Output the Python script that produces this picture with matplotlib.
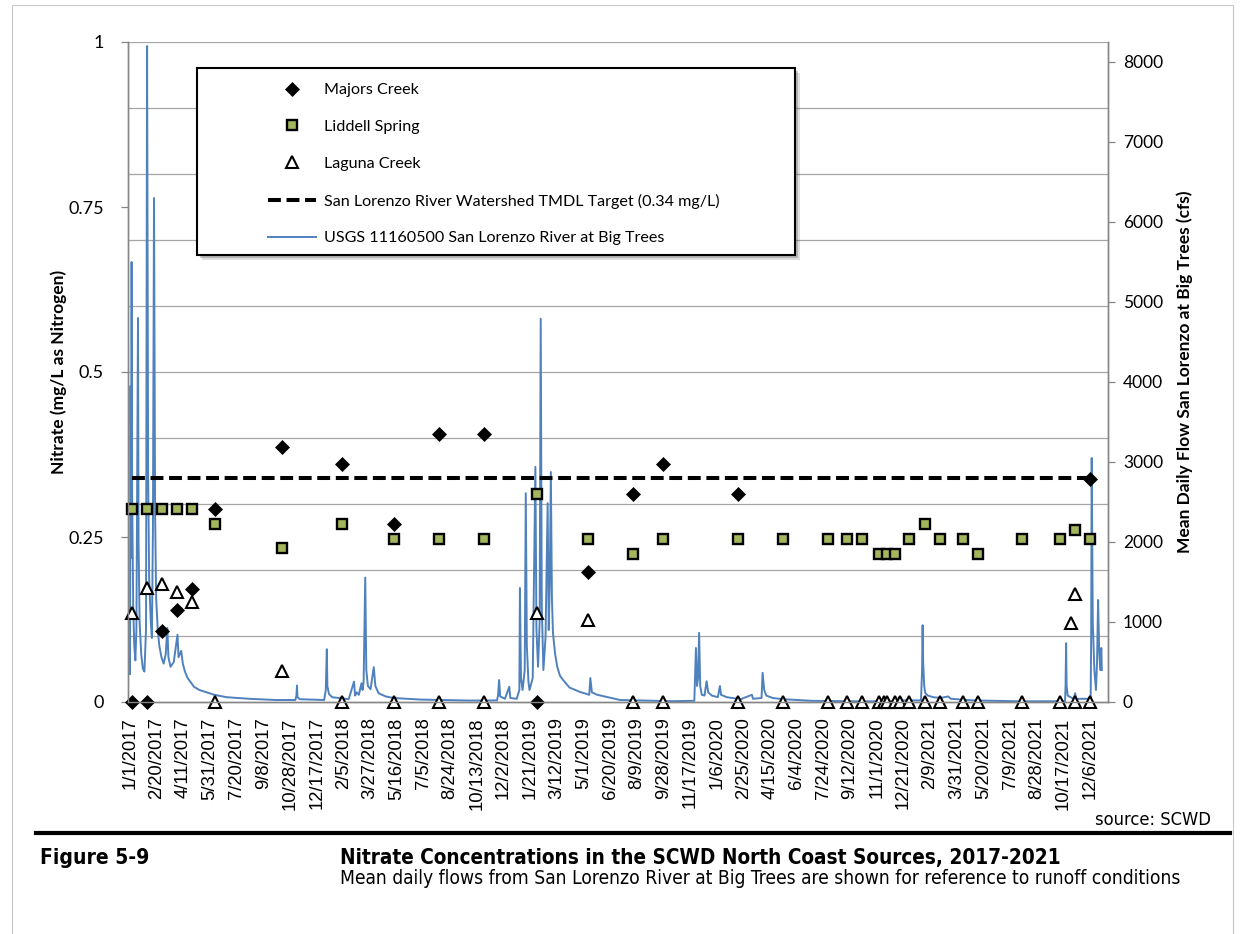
import matplotlib
matplotlib.use('Agg')
import matplotlib.pyplot as plt
from matplotlib.ticker import MultipleLocator
from matplotlib.patches import Rectangle
from matplotlib.lines import Line2D
from matplotlib import font_manager
import pandas as pd

# ---------------- data ----------------
majors_dates = ['2017-01-05', '2017-02-02', '2017-03-02', '2017-03-30', '2017-04-27', '2017-06-09',
                '2017-10-13', '2018-02-02', '2018-05-11', '2018-08-03', '2018-10-27', '2019-02-03',
                '2019-05-10', '2019-08-02', '2019-09-27', '2020-02-15', '2021-12-06']
majors_vals = [0, 0, 0.107, 0.139, 0.171, 0.292, 0.387, 0.360, 0.270, 0.406, 0.406, 0,
               0.197, 0.315, 0.360, 0.315, 0.338]

liddell_dates = ['2017-01-05', '2017-02-02', '2017-03-02', '2017-03-30', '2017-04-27', '2017-06-09',
                 '2017-10-13', '2018-02-02', '2018-05-11', '2018-08-03', '2018-10-27', '2019-02-03',
                 '2019-05-10', '2019-08-02', '2019-09-27', '2020-02-15', '2020-05-09', '2020-08-02',
                 '2020-09-06', '2020-10-05', '2020-11-05', '2020-11-20', '2020-12-05', '2021-01-01',
                 '2021-01-31', '2021-02-27', '2021-04-12', '2021-05-10', '2021-08-01', '2021-10-11',
                 '2021-11-07', '2021-12-06']
liddell_vals = [0.292, 0.292, 0.292, 0.292, 0.292, 0.270, 0.233, 0.270, 0.247, 0.247, 0.247, 0.315,
                0.247, 0.224, 0.247, 0.247, 0.247, 0.247, 0.247, 0.247, 0.224, 0.224, 0.224, 0.247,
                0.270, 0.247, 0.247, 0.224, 0.247, 0.247, 0.261, 0.247]

laguna_dates = ['2017-01-05', '2017-02-02', '2017-03-02', '2017-03-30', '2017-04-27', '2017-06-09',
                '2017-10-13', '2018-02-02', '2018-05-11', '2018-08-03', '2018-10-27', '2019-02-03',
                '2019-05-10', '2019-08-02', '2019-09-27', '2020-02-15', '2020-05-09', '2020-08-02',
                '2020-09-06', '2020-10-05', '2020-11-05', '2020-11-14', '2020-11-20', '2020-12-05',
                '2020-12-15', '2021-01-01', '2021-01-31', '2021-02-27', '2021-04-12', '2021-05-10',
                '2021-08-01', '2021-10-11', '2021-10-31', '2021-11-07', '2021-11-08', '2021-12-06']
laguna_vals = [0.135, 0.173, 0.179, 0.167, 0.151, 0, 0.047, 0, 0, 0, 0, 0.135,
               0.124, 0, 0, 0, 0, 0, 0, 0, 0, 0, 0, 0,
               0, 0, 0, 0, 0, 0, 0, 0, 0.120, 0.164, 0, 0]

tmdl_dates = ['2017-01-05', '2021-12-06']
tmdl_vals = [0.34, 0.34]

flow_dates = [
    '2017-01-01', '2017-01-02', '2017-01-03', '2017-01-04', '2017-01-05', '2017-01-07', '2017-01-09',
    '2017-01-11', '2017-01-13', '2017-01-16', '2017-01-17', '2017-01-19', '2017-01-22', '2017-01-25',
    '2017-01-28', '2017-01-31', '2017-02-02', '2017-02-04', '2017-02-06', '2017-02-09', '2017-02-11',
    '2017-02-13', '2017-02-15', '2017-02-17', '2017-02-19', '2017-02-22', '2017-02-25', '2017-03-01',
    '2017-03-05', '2017-03-09', '2017-03-12', '2017-03-14', '2017-03-18', '2017-03-24', '2017-03-31',
    '2017-04-02', '2017-04-07', '2017-04-10', '2017-04-14', '2017-04-19', '2017-05-01', '2017-05-11',
    '2017-06-08', '2017-07-01', '2017-08-13', '2017-10-01', '2017-11-07', '2017-11-09', '2017-11-10',
    '2017-11-11', '2017-11-15', '2017-12-31', '2018-01-03', '2018-01-05', '2018-01-06', '2018-01-09',
    '2018-01-15', '2018-02-15', '2018-02-25', '2018-02-27', '2018-03-02', '2018-03-06', '2018-03-11',
    '2018-03-13', '2018-03-15', '2018-03-18', '2018-03-20', '2018-03-23', '2018-03-28', '2018-04-03',
    '2018-04-06', '2018-04-12', '2018-04-25', '2018-05-10', '2018-07-01', '2018-10-01', '2018-11-20',
    '2018-11-22', '2018-11-24', '2018-11-26', '2018-12-05', '2018-12-13', '2018-12-15', '2018-12-27',
    '2019-01-01', '2019-01-02', '2019-01-04', '2019-01-07', '2019-01-11', '2019-01-13', '2019-01-15',
    '2019-01-18', '2019-01-20', '2019-01-26', '2019-01-31', '2019-02-02', '2019-02-05', '2019-02-08',
    '2019-02-10', '2019-02-12', '2019-02-15', '2019-02-19', '2019-02-23', '2019-02-25', '2019-02-27',
    '2019-03-01', '2019-03-03', '2019-03-05', '2019-03-09', '2019-03-13', '2019-03-18', '2019-03-24',
    '2019-04-05', '2019-04-25', '2019-05-12', '2019-05-14', '2019-05-17', '2019-05-27', '2019-07-09',
    '2019-10-15', '2019-11-25', '2019-11-28', '2019-11-30', '2019-12-02', '2019-12-04', '2019-12-06',
    '2019-12-09', '2019-12-14', '2019-12-18', '2019-12-21', '2019-12-28', '2020-01-08', '2020-01-12',
    '2020-01-14', '2020-01-25', '2020-02-20', '2020-03-12', '2020-03-14', '2020-03-30', '2020-04-01',
    '2020-04-04', '2020-04-08', '2020-04-20', '2020-05-10', '2020-07-01', '2020-10-01', '2020-12-10',
    '2020-12-14', '2020-12-16', '2021-01-23', '2021-01-25', '2021-01-26', '2021-01-27', '2021-01-29',
    '2021-01-31', '2021-02-05', '2021-02-15', '2021-03-01', '2021-03-15', '2021-03-20', '2021-05-01',
    '2021-08-01', '2021-10-20', '2021-10-21', '2021-10-22', '2021-10-23', '2021-10-25', '2021-11-05',
    '2021-11-08', '2021-11-10', '2021-12-07', '2021-12-08', '2021-12-09', '2021-12-11', '2021-12-14',
    '2021-12-17', '2021-12-19', '2021-12-21', '2021-12-23', '2021-12-25', '2021-12-27', '2021-12-28']
flow_cfs = [
    350, 3950, 1800, 5500, 2600, 1200, 700,
    520, 900, 4800, 2000, 1000, 600, 420,
    380, 900, 8200, 2800, 1500, 1000, 800,
    2200, 6300, 2400, 1300, 900, 700, 560,
    480, 600, 925, 560, 440, 500, 840,
    560, 640, 480, 380, 300, 190, 150,
    90, 60, 40, 25, 25, 80, 205,
    60, 35, 25, 150, 660, 200, 100,
    60, 35, 255, 80, 120, 90, 235,
    150, 260, 1555, 400, 200, 160, 435,
    200, 110, 70, 50, 30, 18, 20,
    80, 275, 70, 40, 190, 50, 40,
    150, 1425, 300, 150, 400, 2610, 700,
    250, 150, 300, 2940, 900, 440, 1000,
    4790, 1200, 400, 800, 2485, 900, 1500,
    2875, 1300, 860, 600, 440, 330, 275,
    180, 125, 90, 300, 120, 90, 25,
    10, 15, 675, 200, 300, 865, 200,
    90, 80, 260, 120, 80, 60, 200,
    90, 60, 35, 90, 40, 50, 365,
    150, 80, 50, 35, 15, 8, 10,
    60, 20, 20, 400, 960, 500, 200,
    110, 80, 60, 50, 70, 40, 20,
    8, 10, 200, 735, 200, 80, 40,
    110, 40, 40, 800, 3050, 1000, 400,
    150, 500, 1275, 650, 400, 675, 400]

tick_labels = ['1/1/2017', '2/20/2017', '4/11/2017', '5/31/2017', '7/20/2017', '9/8/2017',
               '10/28/2017', '12/17/2017', '2/5/2018', '3/27/2018', '5/16/2018', '7/5/2018',
               '8/24/2018', '10/13/2018', '12/2/2018', '1/21/2019', '3/12/2019', '5/1/2019',
               '6/20/2019', '8/9/2019', '9/28/2019', '11/17/2019', '1/6/2020', '2/25/2020',
               '4/15/2020', '6/4/2020', '7/24/2020', '9/12/2020', '11/1/2020', '12/21/2020',
               '2/9/2021', '3/31/2021', '5/20/2021', '7/9/2021', '8/28/2021', '10/17/2021',
               '12/6/2021']
left_ticks = [0, 0.25, 0.5, 0.75, 1]
left_tick_labels = ['0', '0.25', '0.5', '0.75', '1']
right_ticks = [0, 1000, 2000, 3000, 4000, 5000, 6000, 7000, 8000]

# ---------------- fonts ----------------
def narrow_props(weight='normal'):
    for fam in ('Liberation Sans Narrow', 'Arial Narrow'):
        try:
            font_manager.findfont(font_manager.FontProperties(family=fam, weight=weight),
                                  fallback_to_default=False)
            return {'family': fam}
        except Exception:
            pass
    try:
        p = font_manager.FontProperties(family='DejaVu Sans', stretch='condensed', weight=weight)
        f = font_manager.findfont(p, fallback_to_default=False)
        if 'ondensed' in f:
            return {'family': 'DejaVu Sans', 'stretch': 'condensed'}
    except Exception:
        pass
    return {'family': 'Liberation Sans'}

NARROW_R = narrow_props('normal')
NARROW_B = narrow_props('bold')
CAL = 'Lato'
ARIAL = 'Liberation Sans'

W, H = 1244, 934
fig = plt.figure(figsize=(W / 100, H / 100), dpi=100)
fig.patch.set_facecolor('white')

def fx(px):
    return px / W

def fy(py):
    return 1 - py / H

L, R, T, B = 127.7, 1107.7, 42, 702
ax = fig.add_axes([fx(L), fy(B), fx(R) - fx(L), fy(T) - fy(B)])
ax2 = ax.twinx()
ax.set_zorder(ax2.get_zorder() + 1)
ax.patch.set_visible(False)

to_dt = pd.to_datetime

# flow on secondary axis (behind)
GRID = '#a6a6a6'
ax2.set_ylim(0, 8250)
ax2.yaxis.set_minor_locator(MultipleLocator(825))
ax2.grid(which='minor', axis='y', color=GRID, lw=0.9)
ax2.grid(which='major', visible=False)
ax2.tick_params(which='minor', length=0)
h_flow, = ax2.plot(to_dt(flow_dates), flow_cfs, color='#4f81bd', lw=1.4,
                   label='USGS 11160500 San Lorenzo River at Big Trees')
ax2.set_yticks(right_ticks)
ax2.set_yticklabels([str(v) for v in right_ticks], fontfamily=CAL, fontsize=12.5)
ax2.tick_params(axis='y', which='major', direction='out', length=5, width=0.9,
                color='#868686', pad=6)

# nitrate on primary axis (front)
h_tmdl, = ax.plot(to_dt(tmdl_dates), tmdl_vals, color='black', lw=2.9, dashes=(3.2, 1.4),
                  label='San Lorenzo River Watershed TMDL Target (0.34 mg/L)')
h_lag, = ax.plot(to_dt(laguna_dates), laguna_vals, ls='none', marker='^', ms=8.5, mfc='white',
                 mec='black', mew=1.5, clip_on=False, label='Laguna Creek')
h_lid, = ax.plot(to_dt(liddell_dates), liddell_vals, ls='none', marker='s', ms=6.6, mfc='#a4b65c',
                 mec='black', mew=1.7, clip_on=False, label='Liddell Spring')
h_maj, = ax.plot(to_dt(majors_dates), majors_vals, ls='none', marker='D', ms=6.8, mfc='black',
                 mec='black', mew=0.5, clip_on=False, label='Majors Creek')

ax.set_ylim(0, 1)
ax.set_xlim(to_dt('2016-12-27 16:00'), to_dt('2022-01-08'))
ax.set_yticks(left_ticks)
ax.set_yticklabels(left_tick_labels, fontfamily=CAL, fontsize=13)
ax.tick_params(axis='y', direction='out', length=5, width=0.9, color='#868686', pad=12)

ax.set_xticks(to_dt(tick_labels, format='%m/%d/%Y'))
ax.set_xticklabels(tick_labels, rotation=90, fontfamily=ARIAL, fontsize=13.3)
ax.tick_params(axis='x', length=0, pad=11)

for a in (ax, ax2):
    a.spines['top'].set_visible(False)
    for s in ('left', 'right', 'bottom'):
        a.spines[s].set_color('#868686')
        a.spines[s].set_linewidth(1.0)

ax.set_ylabel('Nitrate (mg/L as Nitrogen)', fontfamily=CAL, fontweight='bold', fontsize=12.5)
ax.yaxis.set_label_coords((67 - L) / (R - L), 0.5)
ax2.set_ylabel('Mean Daily Flow San Lorenzo at Big Trees (cfs)', fontfamily=CAL,
               fontweight='bold', fontsize=12.5, rotation=90)
ax2.yaxis.set_label_coords((1176 - L) / (R - L), 0.5)

# legend box with shadow
bx0, by0, bx1, by1 = 197, 68, 795, 255
for off, al in ((5, 0.18), (3, 0.30)):
    fig.patches.append(Rectangle((fx(bx0 + off), fy(by1 + off)), fx(bx1 - bx0), (by1 - by0) / H,
                                 transform=fig.transFigure, facecolor='#505050', edgecolor='none',
                                 alpha=al, zorder=3))
fig.patches.append(Rectangle((fx(bx0), fy(by1)), fx(bx1 - bx0), (by1 - by0) / H,
                             transform=fig.transFigure, facecolor='white', edgecolor='black',
                             lw=1.5, zorder=3.5))
leg = fig.legend(handles=[h_maj, h_lid, h_lag, h_tmdl, h_flow], loc='upper left',
                 bbox_to_anchor=(fx(268), fy(83)), bbox_transform=fig.transFigure,
                 frameon=False, borderpad=0, borderaxespad=0, handlelength=3.0,
                 handletextpad=0.5, labelspacing=1.4, numpoints=1,
                 prop={'family': CAL, 'size': 11.6})
leg.set_zorder(5)

# outer light frame
fig.patches.append(Rectangle((fx(12), fy(940)), fx(1233 - 12), (940 - 5) / H,
                             transform=fig.transFigure, facecolor='none', edgecolor='#c8c8c8',
                             lw=0.8, zorder=0))

# footer
fig.add_artist(Line2D([fx(36), fx(1230)], [fy(833), fy(833)], transform=fig.transFigure,
                      color='black', lw=3.0))
t_src = fig.text(fx(1211), fy(820), 'source: SCWD', ha='right', va='center', fontsize=12,
                 **NARROW_R)
t_fig = fig.text(fx(40), fy(858), 'Figure 5-9', ha='left', va='center', fontweight='bold',
                 fontsize=14, **NARROW_B)
t_tit = fig.text(fx(340), fy(858), 'Nitrate Concentrations in the SCWD North Coast Sources, 2017-2021',
                 ha='left', va='center', fontweight='bold', fontsize=14, **NARROW_B)
t_sub = fig.text(fx(340), fy(879),
                 'Mean daily flows from San Lorenzo River at Big Trees are shown for reference to runoff conditions',
                 ha='left', va='center', fontsize=13, **NARROW_R)

fig.canvas.draw()
rend = fig.canvas.get_renderer()
for t, target in ((t_src, 116), (t_fig, 110), (t_tit, 723), (t_sub, 840)):
    w = t.get_window_extent(rend).width
    t.set_fontsize(t.get_fontsize() * target / w)

fig.savefig('out.png', dpi=100)
